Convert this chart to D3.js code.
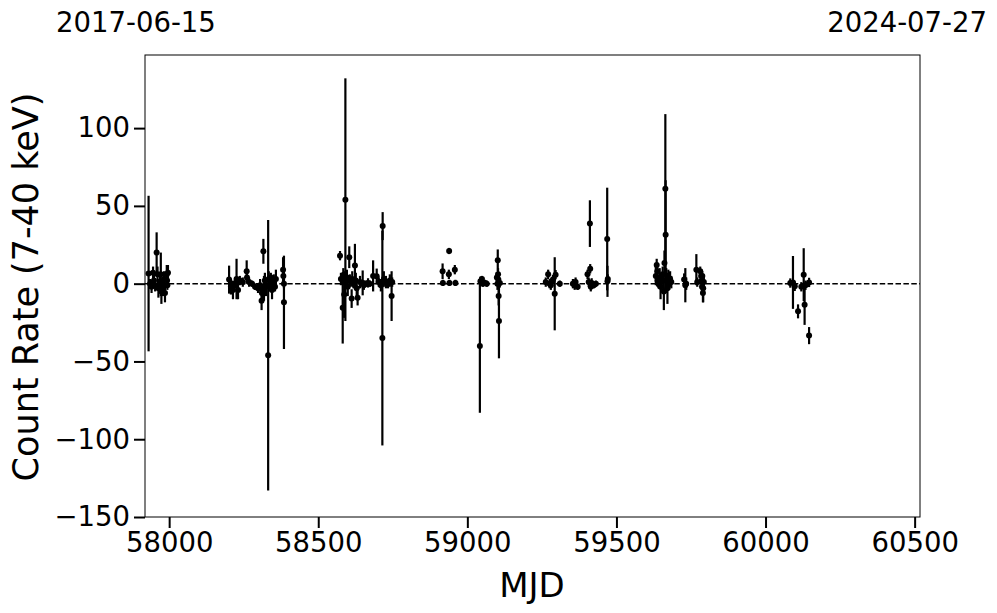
<!DOCTYPE html>
<html><head><meta charset="utf-8">
<script src="https://cdn.jsdelivr.net/npm/d3@7/dist/d3.min.js"></script>
<style>body{margin:0;background:#fff}svg{display:block;font-family:"DejaVu Sans",sans-serif}</style>
</head><body>
<svg id="chart" width="997" height="613"></svg>
<script>
const mjd = [
 57931,57936,57941,57946,57949,57953,57958,57961,57964,57969,57972,57974,57979,57983,57986,57992,57993,57994,57996,
 58201,58207,58214,58221,58226,58231,58237,58247,58260,58261,58268,58278,58288,58298,58305,58310,58311,58316,58318,58321,58325,58332,58334,58338,58341,58345,58348,58351,58355,58358,58382,58383,58385,58385,
 58573,58576,58582,58584,58587,58591,58593,58596,58599,58604,58606,58612,58614,58618,58623,58626,58629,58632,58640,58649,58653,58660,58667,58673,58684,58696,58703,58710,58716,58715,58720,58727,58734,58740,58746,58748,
 58917,58918,58939,58938,58940,58958,58960,
 59042,59044,59049,59052,59059,59065,59099,59101,59102,59103,59104,59105,59106,59109,
 59263,59271,59276,59280,59287,59293,59296,59310,59354,59360,59363,59370,59403,59407,59411,59412,59414,59417,59424,59431,59469,59470,59471,
 59632,59635,59637,59638,59641,59645,59648,59651,59655,59659,59661,59664,59665,59667,59671,59674,59677,59680,59684,59727,59731,59734,59768,59771,59781,59784,59786,59787,59788,59790,59791,59793,
 60083,60092,60098,60109,60120,60128,60131,60134,60146,60146
];
const rate = [
 6.5,0,-2,7,2,-1,20,6,-3,1,6,-5,-2,3,-6,6,2,-1,7,
 2.6,-2,-4,0,3,-4,2,1,8,4,1,0,-2,-3,-1,-11,-6,20.8,-3,2,-2,-46,3,-1,4,-4,0,2,-2,3,9,5,-12,0,
 18,3,-15.5,5,-7,54,1,4,-2,17,2,-9.6,3,0,11.6,2,-3,-9,1,0.5,-1,0,0.5,0,5,4.7,1,-1,37,-35,3,1,0,2,-8,1,
 8,0.5,21,6,0.5,9,0.5,
 -40,1.5,3,0,0.5,0,4,0,15,6,2.6,-8,-24,0.5,
 1,6,0,-1,2.6,-6.5,5.8,0,0,-1,1,-2,6,1,38.6,9.6,-2,0.5,-1,0,28.7,1.5,3,
 5,12,8,2,0,4,-2,1,6,-5,13.3,61,31.5,2,-3,4,0,3,1,2.6,-1,0,9,1,8,5,2,-2,5,-6,-3,1,
 0.4,0.8,-1.7,-17.8,-2,5.8,-13.5,-1,0.8,-33.4
];
const err = [
 50,3,4,4,5,4,13,5,6,4,14,8,6,5,6,6,4,3,5,
 9,5,6,3,13,6,3,3,7,4,3,2,2,3,4,6,6,8,8,5,6,87,5,4,3,6,5,4,3,6,8,5,30,3,
 3,4,23,5,15,78,4,5,6,7,4,6,5,3,14,5,5,5,4,8,3,2,3,2,10,5,3,4,9,69,5,4,3,4,16,3,
 5,2,2,3,2,3,2,
 43,3,2,2,2,2,3,4,7,4,4,6,24,3,
 3,3,3,3,3,23.5,3,2,3,3,3,2,3,3,15,3,3,3,2,2,33,10,3,
 6,4,5,4,3,6,8,5,5,12,8,48,35,8,10,5,4,5,4,4,11,4,10,3,3,4,4,5,3,6,9,4,
 3,17,3,4.5,3,17,13,3,3,5.5
];
const xTicks = [58000,58500,59000,59500,60000,60500];
const yTicks = [-150,-100,-50,0,50,100];
const xDomain = [57919,60518];
const yDomain = [-150,147];
const dateLabels = ["2017-06-15","2024-07-27"];

const svg = d3.select("#chart");
const L=145,R=920,T=55,B=517;
const x = d3.scaleLinear().domain(xDomain).range([L,R]);
const y = d3.scaleLinear().domain(yDomain).range([B,T]);

const data = mjd.map((m,i)=>({m, r:rate[i], e:err[i]}));

svg.append("line").attr("x1",L).attr("x2",R).attr("y1",y(0)).attr("y2",y(0))
  .attr("stroke","#000").attr("stroke-width",1.5).attr("stroke-dasharray","5.5,2.4");

const g = svg.append("g");
g.selectAll("line.eb").data(data).join("line").attr("class","eb")
  .attr("x1",d=>x(d.m)).attr("x2",d=>x(d.m))
  .attr("y1",d=>y(Math.min(d.r+d.e, yDomain[1]+5))).attr("y2",d=>y(Math.max(d.r-d.e, yDomain[0])))
  .attr("stroke","#000").attr("stroke-width",2.2);
g.selectAll("circle").data(data).join("circle")
  .attr("cx",d=>x(d.m)).attr("cy",d=>y(d.r)).attr("r",3).attr("fill","#000");

svg.append("rect").attr("x",L).attr("y",T).attr("width",R-L).attr("height",B-T)
  .attr("fill","none").attr("stroke","#000").attr("stroke-width",1);

const xa = svg.append("g").attr("transform",`translate(0,${B})`)
  .call(d3.axisBottom(x).tickValues(xTicks).tickFormat(d3.format("d")).tickSizeInner(11).tickSizeOuter(0).tickPadding(4));
const ya = svg.append("g").attr("transform",`translate(${L},0)`)
  .call(d3.axisLeft(y).tickValues(yTicks).tickFormat(d3.format("d")).tickSizeInner(11).tickSizeOuter(0).tickPadding(4));
[xa,ya].forEach(a=>{
  a.select(".domain").remove();
  a.selectAll(".tick line").attr("stroke","#000").attr("stroke-width",2);
  a.selectAll(".tick text").attr("fill","#000").style("font-size","27.5px").style("font-family","DejaVu Sans");
});

svg.append("text").attr("x",532).attr("y",597).attr("text-anchor","middle")
  .style("font-size","34px").text("MJD");
svg.append("text").attr("transform","translate(38,287) rotate(-90)").attr("text-anchor","middle")
  .style("font-size","35px").text("Count Rate (7-40 keV)");
svg.append("text").attr("x",56).attr("y",32).style("font-size","27.5px").text(dateLabels[0]);
svg.append("text").attr("x",987).attr("y",32).attr("text-anchor","end").style("font-size","27.5px").text(dateLabels[1]);
</script>
</body></html>
